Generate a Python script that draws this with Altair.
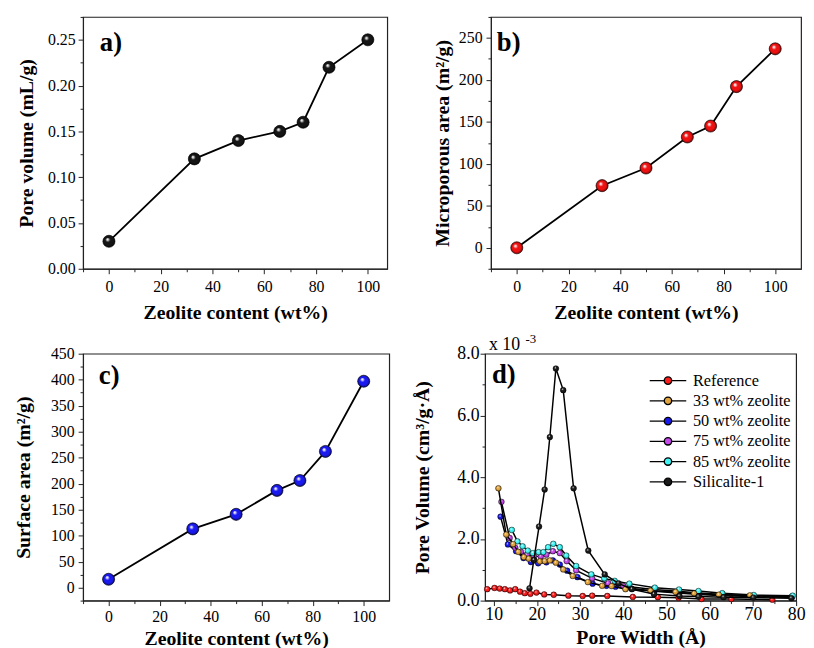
import altair as alt
import pandas as pd

FONT = "Liberation Serif, Tinos, DejaVu Serif"

# ---------------- data ----------------
zeolite_content = [0, 33, 50, 66, 75, 85, 100]
pore_volume = [0.03, 0.12, 0.14, 0.15, 0.16, 0.22, 0.25]
microporous_area = [0, 74, 95, 132, 145, 192, 237]
surface_area = [16, 113, 141, 187, 206, 262, 397]

panel_labels = ["a)", "b)", "c)", "d)"]
exponent_text = ["x 10", "-3"]

psd_series = ["Reference", "33 wt% zeolite", "50 wt% zeolite",
              "75 wt% zeolite", "85 wt% zeolite", "Silicalite-1"]
psd_colors = ["#ff1c1c", "#e2a43c", "#1818f0", "#c848ee", "#40f4f4", "#1a1a1a"]

ref_width = [8.5, 10.2, 11.4, 12.6, 13.8, 15.0, 16.1, 17.2, 18.5, 19.9, 21.7,
             23.9, 27.3, 30.6, 32.8, 36.3, 42.2, 48.0, 52.8, 58.1, 65.0, 74.5]
ref_vol = [0.37, 0.41, 0.39, 0.37, 0.33, 0.37, 0.29, 0.24, 0.22, 0.26, 0.20,
           0.19, 0.16, 0.15, 0.16, 0.15, 0.12, 0.11, 0.09, 0.05, 0.05, 0.03]

z33_width = [11.1, 12.9, 14.5, 15.7, 17.0, 18.1, 19.4, 20.7, 21.8, 23.0, 24.4,
             26.1, 28.3, 31.8, 35.1, 37.3, 40.5, 46.3, 52.1, 56.4, 62.1, 69.3]
z33_vol = [3.64, 2.14, 1.83, 1.58, 1.41, 1.36, 1.31, 1.27, 1.28, 1.30, 1.23,
           1.01, 0.80, 0.60, 0.48, 0.47, 0.37, 0.32, 0.28, 0.23, 0.19, 0.17]

z50_width = [11.6, 13.3, 15.2, 16.9, 18.6, 20.3, 22.2, 23.7, 25.3, 27.0, 29.4,
             32.9, 36.1, 38.2, 41.8, 47.2, 52.6, 57.6, 63.0, 70.0, 79.0]
z50_vol = [2.72, 1.82, 1.60, 1.38, 1.25, 1.21, 1.24, 1.30, 1.17, 0.97, 0.76,
           0.55, 0.48, 0.45, 0.40, 0.30, 0.25, 0.20, 0.16, 0.13, 0.10]

z75_width = [11.8, 13.7, 15.0, 16.3, 17.7, 19.3, 20.9, 22.2, 23.7, 25.3, 26.9,
             29.1, 32.8, 36.5, 40.0, 47.0, 52.7, 57.5, 63.0, 70.0, 79.0]
z75_vol = [3.20, 2.03, 1.71, 1.58, 1.49, 1.44, 1.43, 1.49, 1.60, 1.54, 1.28,
           0.98, 0.72, 0.56, 0.47, 0.36, 0.30, 0.25, 0.20, 0.16, 0.13]

z85_width = [14.2, 15.5, 16.7, 17.9, 19.1, 20.4, 21.5, 22.6, 23.8, 25.3, 26.8,
             29.1, 32.6, 35.6, 38.0, 41.4, 47.3, 52.9, 57.4, 62.9, 70.2, 79.2]
z85_vol = [2.29, 1.92, 1.76, 1.62, 1.54, 1.57, 1.57, 1.73, 1.84, 1.73, 1.46,
           1.12, 0.85, 0.72, 0.64, 0.55, 0.42, 0.36, 0.31, 0.24, 0.18, 0.16]

sil_width = [18.3, 19.3, 20.5, 21.8, 23.0, 24.4, 26.1, 28.5, 31.9, 35.7, 38.9,
             42.0, 47.1, 53.0, 57.4, 63.2, 70.1, 78.9]
sil_vol = [0.40, 1.32, 2.40, 3.60, 5.30, 7.52, 6.82, 3.64, 1.62, 0.85, 0.56,
           0.37, 0.21, 0.15, 0.13, 0.11, 0.10, 0.08]

psd_widths = [ref_width, z33_width, z50_width, z75_width, z85_width, sil_width]
psd_vols = [ref_vol, z33_vol, z50_vol, z75_vol, z85_vol, sil_vol]
draw_order = [0, 2, 3, 4, 1, 5]

# ---------------- styling helpers ----------------
GLOSS = {
    "gradient": "radial",
    "x1": 0.36, "y1": 0.32, "r1": 0,
    "x2": 0.5, "y2": 0.5, "r2": 0.5,
    "stops": [
        {"offset": 0, "color": "rgba(255,255,255,1)"},
        {"offset": 0.14, "color": "rgba(255,255,255,0.85)"},
        {"offset": 0.38, "color": "rgba(255,255,255,0)"},
        {"offset": 0.72, "color": "rgba(0,0,0,0)"},
        {"offset": 1, "color": "rgba(0,0,0,0.5)"},
    ],
}


def text_layer(txt, x, y, size, weight="bold", opacity=1):
    return alt.Chart(pd.DataFrame({"t": [txt]})).mark_text(
        font=FONT, fontSize=size, fontWeight=weight, align="left",
        baseline="alphabetic", color="black", opacity=opacity
    ).encode(text="t:N", x=alt.value(x), y=alt.value(y))


def major_axis(orient, title, values, fmt, lsize, lpad, tpad, extent=None):
    kw = dict(orient=orient, title=title, values=values, format=fmt,
              tickSize=5, tickWidth=1, labelPadding=lpad, titlePadding=tpad,
              labelFontSize=lsize, titleFontSize=20, labelFlush=False,
              labelOverlap=False, grid=False, labelFont=FONT, titleFont=FONT)
    if extent is not None:
        kw.update(minExtent=extent, maxExtent=extent)
    return alt.Axis(**kw)


def minor_axis(orient, values):
    return alt.Axis(orient=orient, title=None, values=values, tickSize=3,
                    tickWidth=1, labels=False, domain=False, grid=False,
                    minExtent=0)


def scatter_panel(yvals, color, ydom, ymaj, ymin, yfmt, ytitle, xdom, w, h,
                  yext, ylpad, ytpad, xlpad, xtpad, label, lx, ly, spacer=False):
    df = pd.DataFrame({"content": zeolite_content, "value": yvals})
    xs = alt.Scale(domain=xdom, nice=False, zero=False)
    ys = alt.Scale(domain=ydom, nice=False, zero=False)
    xmaj = [0, 20, 40, 60, 80, 100]
    xmin = [v for v in [-10, 10, 30, 50, 70, 90] if xdom[0] <= v <= xdom[1]]
    line = alt.Chart(df).mark_line(color="black", strokeWidth=1.8).encode(
        x=alt.X("content:Q", scale=xs,
                axis=major_axis("bottom", "Zeolite content (wt%)", xmaj, "d", 16, xlpad, xtpad)),
        y=alt.Y("value:Q", scale=ys,
                axis=major_axis("left", ytitle, ymaj, yfmt, 16, ylpad, ytpad, yext)),
    )
    base = alt.Chart(df).mark_circle(size=150, color=color, opacity=1,
                                     stroke="#000", strokeWidth=0.6).encode(
        x=alt.X("content:Q", scale=xs, axis=minor_axis("bottom", xmin)),
        y=alt.Y("value:Q", scale=ys, axis=minor_axis("left", ymin)),
    )
    gloss = alt.Chart(df).mark_circle(size=150, fill=GLOSS, opacity=1).encode(
        x=alt.X("content:Q", scale=xs, axis=None),
        y=alt.Y("value:Q", scale=ys, axis=None),
    )
    layers = [line, base, gloss, text_layer(label, lx, ly, 27)]
    if spacer:
        layers.append(text_layer(exponent_text[1], 41, -11, 13, "normal", 0))
    return alt.layer(*layers).resolve_axis(
        x="independent", y="independent").properties(width=w, height=h)


# ---------------- panels a-c ----------------
a_minor = [round(0.025 * k, 3) for k in range(1, 12, 2)]
panel_a = scatter_panel(
    pore_volume, "#151515", [0, 0.275], [0, 0.05, 0.10, 0.15, 0.20, 0.25],
    a_minor, ".2f", "Pore volume (mL/g)", [-10, 107.5], 308, 255,
    36, 3, 11, 5, 8, panel_labels[0], 17, 35)

panel_b = scatter_panel(
    microporous_area, "#ee1111", [-25, 275], [0, 50, 100, 150, 200, 250],
    [-25, 25, 75, 125, 175, 225, 275], "d", "Microporous area (m²/g)",
    [-10, 110], 314, 255, 33, 4, 6, 5, 8, panel_labels[1], 6, 34)

panel_c = scatter_panel(
    surface_area, "#1a1af0", [-25, 450], list(range(0, 451, 50)),
    list(range(-25, 450, 50)), "d", "Surface area (m²/g)",
    [-10, 110], 310, 250, 35, 4, 15, 3, 4, panel_labels[2], 16, 31, spacer=True)

# ---------------- panel d ----------------
rows = []
for name, ws, vs in zip(psd_series, psd_widths, psd_vols):
    for wv, vv in zip(ws, vs):
        rows.append({"series": name, "width": wv, "volume": vv})
psd = pd.DataFrame(rows)

dx = alt.Scale(domain=[8, 80], nice=False, zero=False)
dy = alt.Scale(domain=[0, 8], nice=False, zero=False)
fill_scale = alt.Scale(domain=psd_series, range=psd_colors)

LEGEND_PATH = ("M-3.7,0L-0.75,0M0.75,0L3.7,0"
               "M0.75,0A0.75,0.75,0,1,1,-0.75,0A0.75,0.75,0,1,1,0.75,0Z")
legend = alt.Legend(orient="none", legendX=177, legendY=19, title=None,
                    symbolType=LEGEND_PATH, symbolSize=100,
                    symbolStrokeColor="black", symbolStrokeWidth=1.4,
                    labelFont=FONT, labelFontSize=16.5, labelColor="black",
                    labelOffset=17, rowPadding=3.5, padding=0, symbolOffset=0)

d_layers = []
first = True
for idx in draw_order:
    name = psd_series[idx]
    sub = alt.Chart(psd).transform_filter(alt.datum.series == name)
    if first:
        xa_line = major_axis("bottom", "Pore Width (Å)", list(range(10, 81, 10)),
                             "d", 18, 0, 4)
        ya_line = major_axis("left", "Pore Volume (cm³/g·Å)", [0, 2, 4, 6, 8],
                             ".1f", 18, 1, 25, 28)
        xa_pt = minor_axis("bottom", list(range(15, 80, 10)))
        ya_pt = minor_axis("left", [1, 3, 5, 7])
    else:
        xa_line = ya_line = xa_pt = ya_pt = None
    d_layers.append(sub.mark_line(color="black", strokeWidth=1.5).encode(
        x=alt.X("width:Q", scale=dx, axis=xa_line),
        y=alt.Y("volume:Q", scale=dy, axis=ya_line),
    ))
    d_layers.append(sub.mark_circle(size=34, opacity=1, stroke="#000",
                                    strokeWidth=0.4).encode(
        x=alt.X("width:Q", scale=dx, axis=xa_pt),
        y=alt.Y("volume:Q", scale=dy, axis=ya_pt),
        fill=alt.Fill("series:N", scale=fill_scale, legend=legend),
    ))
    d_layers.append(sub.mark_circle(size=34, fill=GLOSS, opacity=1).encode(
        x=alt.X("width:Q", scale=dx, axis=None),
        y=alt.Y("volume:Q", scale=dy, axis=None),
    ))
    first = False

d_layers.append(text_layer(panel_labels[3], 7, 30, 27))
d_layers.append(text_layer(exponent_text[0], 4, -4, 18, "normal"))
d_layers.append(text_layer(exponent_text[1], 41, -11, 13, "normal"))

panel_d = alt.layer(*d_layers).resolve_axis(
    x="independent", y="independent").properties(width=315, height=250)

# ---------------- layout ----------------
row1 = alt.hconcat(panel_a, panel_b, spacing=44)
row2 = alt.hconcat(panel_c, panel_d, spacing=22).resolve_scale(
    fill="independent").resolve_legend(fill="independent")

chart = alt.vconcat(row1, row2, spacing=9).resolve_scale(
    fill="independent").resolve_legend(fill="independent").properties(
    padding={"left": 5, "top": 3, "right": 0, "bottom": 0},
    background="white",
).configure(
    font=FONT
).configure_view(
    stroke="#222", strokeWidth=1.2
).configure_axis(
    labelFont=FONT, titleFont=FONT, labelColor="black", titleColor="black",
    tickColor="#222", domainColor="#222", titleFontWeight="bold", grid=False
).configure_legend(
    labelFont=FONT
)

chart.save("out.html", embed_options={"renderer": "svg", "actions": False})
